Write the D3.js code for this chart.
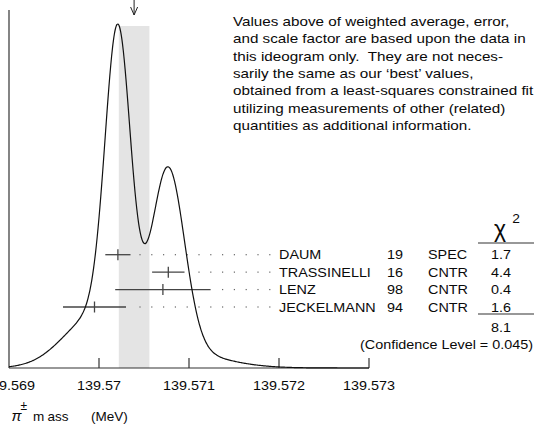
<!DOCTYPE html>
<html>
<head>
<meta charset="utf-8">
<script src="https://cdn.jsdelivr.net/npm/d3@7"></script>
<style>
  html, body { margin: 0; padding: 0; background: #fff; }
  svg { display: block; }
  text { font-family: "Liberation Sans", Arial, Helvetica, sans-serif; fill: #0a0a0a; white-space: pre; }
</style>
</head>
<body>
<svg id="chart" width="534" height="429"></svg>
<script>
// ---------- data ----------
const experiments = ["DAUM", "TRASSINELLI", "LENZ", "JECKELMANN"];
const years = ["19", "16", "98", "94"];
const techniques = ["SPEC", "CNTR", "CNTR", "CNTR"];
const values = [139.57021, 139.57077, 139.57071, 139.56995];
const errors = [0.00014, 0.00018, 0.00053, 0.00035];
const chi2 = ["1.7", "4.4", "0.4", "1.6"];
const chi2Total = "8.1";
const confidenceText = "(Confidence Level = 0.045)";
const weightedAvg = 139.57039;
const avgError = 0.00017;
const xTicks = [139.569, 139.570, 139.571, 139.572, 139.573];
const tickLabels = ["139.569", "139.57", "139.571", "139.572", "139.573"];
const noteLines = [
  "Values above of weighted average, error,",
  "and scale factor are based upon the data in",
  "this ideogram only.  They are not neces-",
  "sarily the same as our \u2018best\u2019 values,",
  "obtained from a least-squares constrained fit",
  "utilizing measurements of other (related)",
  "quantities as additional information."
];

// ---------- layout ----------
const svg = d3.select("#chart");
const axisY = 368;
const x = d3.scaleLinear().domain([139.569, 139.573]).range([9, 369]);
const rowY = d3.scalePoint().domain(experiments).range([254.7, 307]);

function stext(parent, px, py, str, size, anchor, stretch) {
  return parent.append("text")
    .attr("transform", `translate(${px},${py}) scale(${stretch || 1.15},1)`)
    .attr("font-size", size)
    .attr("text-anchor", anchor || "start")
    .text(str);
}

// Ideogram: each measurement as a Gaussian of width = error, area proportional to 1/error
const grid = d3.range(0, 401).map(i => x.domain()[0] + i * (x.domain()[1] - x.domain()[0]) / 400);
const ideo = grid.map(m => {
  let s = 0;
  values.forEach((v, i) => {
    const z = (m - v) / errors[i];
    s += Math.exp(-0.5 * z * z) / (errors[i] * errors[i]);
  });
  return [m, s];
});
const y = d3.scaleLinear().domain([0, d3.max(ideo, d => d[1])]).range([axisY, 24]);

// shaded band
svg.append("rect")
  .attr("x", x(weightedAvg - avgError))
  .attr("y", 26)
  .attr("width", x(weightedAvg + avgError) - x(weightedAvg - avgError))
  .attr("height", axisY - 26)
  .attr("fill", "#e4e4e4");

// arrow
const ax = x(weightedAvg);
svg.append("path")
  .attr("d", `M${ax},0 L${ax},15 M${ax - 3.5},7 L${ax},15 L${ax + 3.5},7`)
  .attr("fill", "none").attr("stroke", "#222").attr("stroke-width", 1);

// left line
svg.append("line").attr("x1", 9).attr("x2", 9).attr("y1", 10).attr("y2", axisY)
  .attr("stroke", "#333").attr("stroke-width", 1.2);

// x axis
const axisG = svg.append("g").attr("transform", `translate(0,${axisY})`);
axisG.append("line").attr("x1", x.range()[0]).attr("x2", x.range()[1])
  .attr("stroke", "#333").attr("stroke-width", 1.2);
axisG.selectAll("line.tick").data(xTicks.slice(1)).enter().append("line")
  .attr("class", "tick")
  .attr("x1", d => x(d)).attr("x2", d => x(d))
  .attr("y1", 0).attr("y2", -10)
  .attr("stroke", "#333").attr("stroke-width", 1.2);
xTicks.forEach((d, i) => stext(svg, x(d), 390, tickLabels[i], 12.5, "middle"));

// leader dots
const dotXs = d3.range(0, 12).map(i => 140 + i * 11.8);
experiments.forEach((e, i) => {
  const end = x(values[i] + errors[i]);
  svg.selectAll(null).data(dotXs.filter(dx => dx > end + 5)).enter().append("rect")
    .attr("x", d => d - 0.6).attr("y", rowY(e) - 0.6)
    .attr("width", 1.2).attr("height", 1.2).attr("fill", "#666");
});

// error bars
experiments.forEach((e, i) => {
  const g = svg.append("g");
  g.append("line")
    .attr("x1", x(values[i] - errors[i])).attr("x2", x(values[i] + errors[i]))
    .attr("y1", rowY(e)).attr("y2", rowY(e))
    .attr("stroke", "#444").attr("stroke-width", 1.3);
  g.append("line")
    .attr("x1", x(values[i])).attr("x2", x(values[i]))
    .attr("y1", rowY(e) - 5.5).attr("y2", rowY(e) + 5.5)
    .attr("stroke", "#444").attr("stroke-width", 1.3);
});

// curve
svg.append("path")
  .datum(ideo)
  .attr("d", d3.line().x(d => x(d[0])).y(d => y(d[1])).curve(d3.curveMonotoneX))
  .attr("fill", "none").attr("stroke", "#111").attr("stroke-width", 1.2);

// table
experiments.forEach((e, i) => {
  const by = rowY(e) + 4.5;
  stext(svg, 279, by, e, 12.5, "start");
  stext(svg, 403, by, years[i], 12.5, "end");
  stext(svg, 428, by, techniques[i], 12.5, "start");
  stext(svg, 501, by, chi2[i], 12.5, "middle");
});
svg.append("text").attr("x", 500).attr("y", 237).attr("font-size", 23)
  .attr("text-anchor", "middle").text("\u03C7");
stext(svg, 516, 223, "2", 12, "middle");
svg.append("line").attr("x1", 478).attr("x2", 534).attr("y1", 243).attr("y2", 243)
  .attr("stroke", "#333").attr("stroke-width", 1.2);
svg.append("line").attr("x1", 478).attr("x2", 534).attr("y1", 314).attr("y2", 314)
  .attr("stroke", "#333").attr("stroke-width", 1.2);
stext(svg, 501, 331.5, chi2Total, 12.5, "middle");
stext(svg, 533, 348.5, confidenceText, 12.5, "end");

// note text
noteLines.forEach((l, i) => stext(svg, 233, 26 + i * 17.3, l, 13.6, "start", 1.12));

// axis title
const tf = "'DejaVu Sans', sans-serif";
svg.append("text").attr("x", 11.5).attr("y", 421).attr("font-size", 15)
  .attr("font-family", "'Liberation Serif', serif").attr("font-style", "italic").text("\u03C0");
svg.append("text").attr("x", 20.5).attr("y", 410).attr("font-size", 12)
  .attr("font-family", tf).text("\u00B1");
svg.append("text").attr("x", 33).attr("y", 421).attr("font-size", 13.5)
  .attr("font-family", tf).text("m");
svg.append("text").attr("x", 47.5).attr("y", 421).attr("font-size", 13.5)
  .attr("font-family", tf).text("ass");
svg.append("text").attr("x", 91).attr("y", 421).attr("font-size", 13.5)
  .attr("font-family", tf).text("(MeV)");
</script>
</body>
</html>
